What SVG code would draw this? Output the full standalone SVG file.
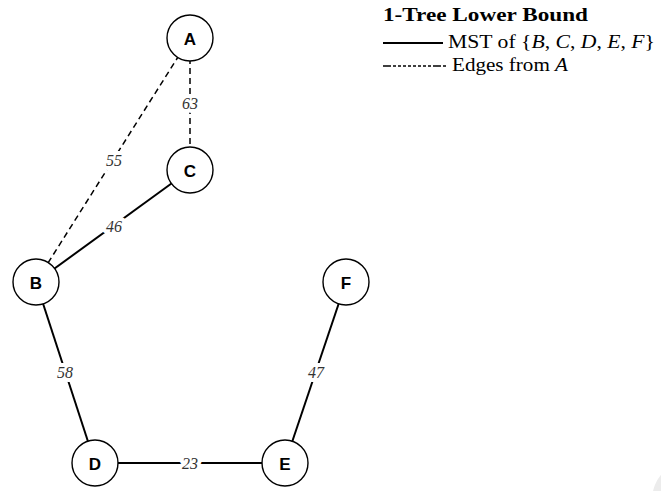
<svg xmlns="http://www.w3.org/2000/svg" width="661" height="491" viewBox="0 0 661 491">
<style>
.node circle{fill:#fff;stroke:#000;stroke-width:1.4}
.node text{font-family:"Liberation Sans",Arial,sans-serif;font-weight:bold;font-size:17px;text-anchor:middle;dominant-baseline:central;fill:#000}
.solid{stroke:#000;stroke-width:2;fill:none}
.dashed{stroke:#000;stroke-width:1.5;stroke-dasharray:6 4;fill:none}
.lbl{font-family:"Liberation Serif","Times New Roman",serif;font-style:italic;font-size:16px;text-anchor:middle;dominant-baseline:central;fill:#333;stroke:#fff;stroke-width:8;paint-order:stroke;stroke-linejoin:round}
.leg{font-family:"Liberation Serif","Times New Roman",serif;font-size:18px;fill:#000}
</style>
<rect width="661" height="491" fill="#fff"/>
<circle cx="692" cy="500" r="40" fill="#ececec"/>
<g id="connectors">
<line class="dashed" x1="190" y1="38" x2="190" y2="170"/>
<line class="dashed" x1="190" y1="38" x2="36" y2="282"/>
<line class="solid" x1="190" y1="170" x2="36" y2="282"/>
<line class="solid" x1="36" y1="282" x2="95" y2="463"/>
<line class="solid" x1="95" y1="463" x2="285" y2="463"/>
<line class="solid" x1="285" y1="463" x2="346" y2="282"/>
<text class="lbl" x="190" y="103">63</text>
<text class="lbl" x="114" y="160">55</text>
<text class="lbl" x="114" y="226">46</text>
<text class="lbl" x="65" y="372">58</text>
<text class="lbl" x="190" y="463">23</text>
<text class="lbl" x="316" y="372">47</text>
</g>
<g id="A" class="node"><circle cx="190" cy="38" r="23"/><text x="190" y="39">A</text></g>
<g id="C" class="node"><circle cx="190" cy="170" r="23"/><text x="190" y="171">C</text></g>
<g id="B" class="node"><circle cx="36" cy="282" r="23"/><text x="36" y="283">B</text></g>
<g id="F" class="node"><circle cx="346" cy="282" r="23"/><text x="346" y="283">F</text></g>
<g id="D" class="node"><circle cx="95" cy="463" r="23"/><text x="95" y="464">D</text></g>
<g id="E" class="node"><circle cx="285" cy="463" r="23"/><text x="285" y="464">E</text></g>
<g id="legend">
<text class="leg" x="383" y="21" font-weight="bold" textLength="205" lengthAdjust="spacingAndGlyphs">1-Tree Lower Bound</text>
<line class="solid" x1="383" y1="43" x2="443" y2="43"/>
<text class="leg" x="448" y="48" textLength="207" lengthAdjust="spacingAndGlyphs">MST of {<tspan font-style="italic">B</tspan>, <tspan font-style="italic">C</tspan>, <tspan font-style="italic">D</tspan>, <tspan font-style="italic">E</tspan>, <tspan font-style="italic">F</tspan>}</text>
<line x1="383" y1="66" x2="447" y2="66" stroke="#000" stroke-width="1.3" stroke-dasharray="8 2 3 2 3 2 3 2 3 2 3 2 3 2 3 2 3 2"/>
<text class="leg" x="452" y="71" textLength="116" lengthAdjust="spacingAndGlyphs">Edges from <tspan font-style="italic">A</tspan></text>
</g>
</svg>
